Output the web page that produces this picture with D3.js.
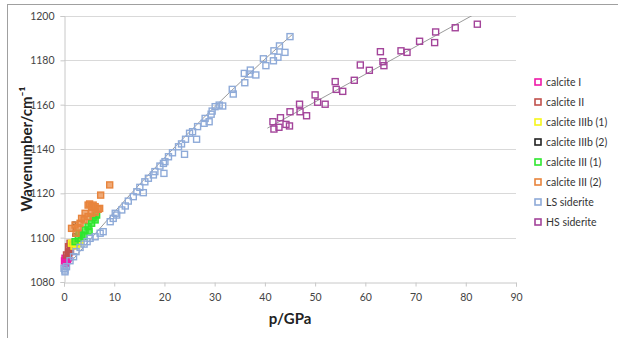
<!DOCTYPE html>
<html><head><meta charset="utf-8">
<script src="https://cdn.jsdelivr.net/npm/d3@7"></script>
<style>
body{margin:0;background:#fff;}
svg{display:block;font-family:"Liberation Sans Narrow","Arial Narrow",Lato,sans-serif;}
</style></head><body>
<svg id="c" width="618" height="338"></svg>
<script>
const xTicks = [0,10,20,30,40,50,60,70,80,90];
const yTicks = [1080,1100,1120,1140,1160,1180,1200];
const seriesNames = ["calcite I","calcite II","calcite IIIb (1)","calcite IIIb (2)","calcite III (1)","calcite III (2)","LS siderite","HS siderite"];
const seriesColors = ["#ee1aa8","#c0504d","#f5f51a","#222222","#2ee62e","#e8843c","#8eaad8","#a3449a"];

const calciteI = [[0.2,1090.7],[0.5,1089.6],[0.9,1091.1],[0.4,1088.4],[0.1,1089.5],[0.7,1090.2]];
const calciteII = [[0.9,1095.9],[1.2,1097.5],[1.3,1094.4],[0.9,1092.9],[0.5,1092.2],[1.5,1096.2],[1.1,1093.6]];
const calciteIIIb1 = [[1.5,1097.5],[2.0,1096.2],[2.5,1096.7],[3.2,1098.2],[2.8,1097.4]];
const calciteIIIb2 = [[2.0,1106.5],[2.1,1103.8],[2.0,1101.2]];
const calciteIII1 = [[2.2,1098.2],[2.85,1099.7],[3.5,1101.2],[4.2,1103.5],[4.8,1105],[5.5,1106.5],[6.2,1108],[6.5,1110.2],[5.8,1109],[3.0,1102],[4.0,1100.5],[5.0,1103]];
const calciteIII2 = [[9.1,1123.8],[7.3,1119.2],[7.1,1113.2],[5.1,1115.2],[5.8,1114.7],[1.5,1104.2],[2.2,1105.7],[2.4,1102],[3.5,1108.7],[4.2,1111],[4.8,1114.7],[5.5,1114],[6.2,1114],[6.8,1112.8],[6.2,1111.5],[4.8,1109.5],[3.2,1106.5],[2.8,1104.5],[4.0,1108],[5.5,1111]];
const lsSiderite = [[45,1190.7],[44,1183.6],[42.9,1186.5],[42.6,1181.4],[41.8,1184.3],[41.7,1179.8],[40.2,1177.6],[39.7,1180.7],[38.2,1173.4],[37.1,1175.6],[36.9,1173.8],[35.9,1174.1],[36,1169.9],[33.7,1164.8],[33.5,1166.9],[31.6,1159.4],[30.9,1159.8],[30.1,1159.1],[29.5,1157.1],[29.3,1155.7],[28.9,1152.3],[27.9,1151.6],[28.1,1153.8],[26.6,1150.1],[26.4,1144.4],[25.6,1147.8],[25,1147.1],[24.2,1144.4],[24,1137.6],[23.4,1142.3],[22.8,1141],[21.6,1138.3],[20.8,1136.5],[20.1,1134.3],[19.8,1133.5],[19.1,1132.3],[19.9,1129],[18.1,1129.8],[17.8,1128.3],[16.8,1126.8],[16.1,1125.2],[15.8,1120.3],[15.1,1122.7],[14.5,1120.7],[13.8,1118.5],[12.8,1116.5],[12.2,1114.3],[11.5,1112.5],[10.5,1110.2],[10.2,1111],[9.8,1108.7],[9.2,1107.2],[7.8,1102.7],[7.2,1102],[6.2,1100.4],[5.2,1099.7],[4.6,1098.2],[4,1097.1],[3.2,1095.6],[2.4,1093.7],[1.9,1091.4],[1.2,1089.6],[0.5,1086.9],[0.2,1085.4],[0,1086.2],[0.2,1084.6]];
const hsSiderite = [[41.6,1152.3],[41.8,1149],[42.8,1149.8],[43.1,1154.1],[44.2,1151.1],[44.9,1150.4],[45,1156.8],[46.9,1160.2],[47,1156.8],[48.3,1155],[50,1164.4],[50.5,1161.1],[52,1160.2],[54,1170.4],[54.2,1166.9],[55.5,1166],[57.8,1171],[59,1177.9],[60.8,1175.5],[63,1183.9],[63.5,1179.4],[63.7,1177.6],[67.1,1184.3],[68.3,1183.6],[70.8,1188.6],[73.8,1188],[74,1192.8],[77.9,1194.7],[82.3,1196.3]];
const lsFit = [[0,1085.5],[10,1111.5],[20,1136],[30,1159],[40,1180.5],[45.5,1191.7]];
const hsFit = [[40.5,1149.4],[81.5,1200.5]];

const allSeries = [calciteI,calciteII,calciteIIIb1,calciteIIIb2,calciteIII1,calciteIII2,lsSiderite,hsSiderite];

const svg = d3.select("#c");
const x = d3.scaleLinear().domain([0,90]).range([64,516]);
const y = d3.scaleLinear().domain([1080,1200]).range([282,16]);

svg.append("rect").attr("x",7.5).attr("y",4.5).attr("width",640).attr("height",360)
  .attr("fill","none").attr("stroke","#a0a0a0").attr("stroke-width",1);

svg.append("g").selectAll("line").data(yTicks.slice(1)).join("line")
  .attr("x1",x(0)).attr("x2",x(90)).attr("y1",d=>Math.round(y(d))+0.5).attr("y2",d=>Math.round(y(d))+0.5)
  .attr("stroke","#d9d9d9").attr("stroke-width",1.2);

const xAxis = svg.append("g").attr("transform",`translate(0,${Math.round(y(1080))+0.5})`)
  .call(d3.axisBottom(x).tickValues(xTicks).tickFormat(d3.format("d")).tickSize(4).tickPadding(7));
const yAxis = svg.append("g").attr("transform",`translate(${Math.round(x(0))+0.5},0)`)
  .call(d3.axisLeft(y).tickValues(yTicks).tickFormat(d3.format("d")).tickSize(4).tickPadding(6));
[xAxis,yAxis].forEach(a=>{
  a.select(".domain").attr("stroke","#c8c8c8");
  a.selectAll(".tick line").attr("stroke","#c8c8c8");
  a.selectAll(".tick text").attr("fill","#444").style("font-size","10.5px")
   .style("font-family","'Liberation Sans Narrow','Arial Narrow',Lato,sans-serif");
});

const line = d3.line().x(d=>x(d[0])).y(d=>y(d[1])).curve(d3.curveNatural);
svg.append("defs").append("clipPath").attr("id","pc").append("rect")
  .attr("x",x(0)).attr("y",y(1200)).attr("width",x(90)-x(0)).attr("height",y(1080)-y(1200));
const fits = svg.append("g").attr("clip-path","url(#pc)");
[lsFit,hsFit].forEach(f=>{
  fits.append("path").attr("d",line(f)).attr("fill","none").attr("stroke","#9a9a9a").attr("stroke-width",1);
});

const s = 6;
allSeries.forEach((data,i)=>{
  const col = seriesColors[i];
  const isSmall = i===3;
  const sz = isSmall ? 2.5 : s;
  svg.append("g").selectAll("rect").data(data).join("rect")
    .attr("x",d=>x(d[0])-sz/2).attr("y",d=>y(d[1])-sz/2)
    .attr("width",sz).attr("height",sz)
    .attr("fill",i<6 && !isSmall ? col : "none")
    .attr("fill-opacity", i<6 ? 0.7 : 0)
    .attr("stroke",col).attr("stroke-width",isSmall?1:1.4);
});

const lg = svg.append("g");
seriesNames.forEach((n,i)=>{
  const yy = 82 + i*20;
  lg.append("rect").attr("x",535).attr("y",yy-3).attr("width",6).attr("height",6)
    .attr("fill","#fff").attr("stroke",seriesColors[i]).attr("stroke-width",1.6);
  lg.append("text").attr("x",546).attr("y",yy).attr("dy","0.35em")
    .style("font-size","10.5px").attr("fill","#333").text(n);
});

svg.append("text").attr("x",290).attr("y",324).attr("text-anchor","middle")
  .style("font-size","15px").style("font-weight","bold").attr("fill","#222").text("p/GPa");
svg.append("text").attr("transform","translate(32,149) rotate(-90)").attr("text-anchor","middle")
  .style("font-size","15px").style("font-weight","bold").attr("fill","#222")
  .text("Wavenumber/cm⁻¹");
</script></body></html>
